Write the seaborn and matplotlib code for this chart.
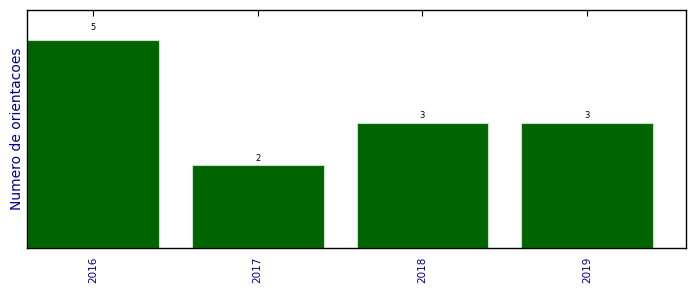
import matplotlib
matplotlib.use("Agg")
import matplotlib.pyplot as plt
import seaborn as sns
import pandas as pd

anos = ["2016", "2017", "2018", "2019"]
orientacoes = [5, 2, 3, 3]

sns.set_style("white")
plt.rcParams['font.family'] = ['DejaVu Sans']

df = pd.DataFrame({"ano": anos, "n": orientacoes})

fig = plt.figure(figsize=(6.96, 2.92), dpi=100)
ax = fig.add_axes([27/696, 1 - 248/292, (686-27)/696, (248-10)/292])

sns.barplot(data=df, x="ano", y="n", color="#006400", saturation=1, width=0.8,
            edgecolor="#c8e0c8", linewidth=0.8, ax=ax)

ax.set_xlim(-0.4, 3.6)
ax.set_ylim(0, 5.72)
ax.set_yticks([])
ax.set_xlabel("")
ax.set_ylabel("Numero de orientacoes", color="darkblue", fontsize=10, labelpad=2)
ax.tick_params(axis="x", direction="in", top=True, bottom=True, length=4,
               width=0.8, color="black", labelcolor="darkblue", labelsize=7.5,
               labelrotation=90, pad=6)
for s in ax.spines.values():
    s.set_color("black")
    s.set_linewidth(1.0)
    s.set_visible(True)

for i, v in enumerate(orientacoes):
    ax.annotate(str(v), (i, v * 1.05), xytext=(0, -2), textcoords="offset points",
                ha="center", va="bottom", fontsize=6, color="black")

fig.savefig("out.png", dpi=100)
